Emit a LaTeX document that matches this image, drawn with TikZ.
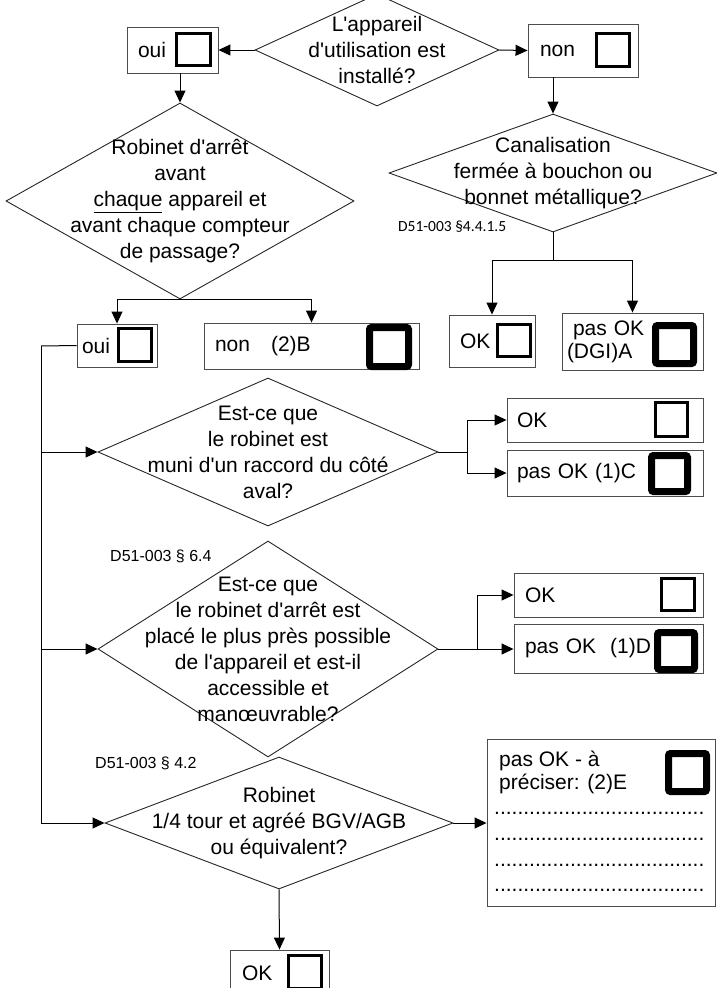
\documentclass[tikz,border=0pt]{standalone}
\usepackage{fontspec}
\setmainfont{Liberation Sans}[Ligatures=TeXOff]
\newfontfamily\calibri{Carlito}
\usetikzlibrary{shapes.geometric,arrows.meta}

\begin{document}
\begin{tikzpicture}[x=1pt,y=-1pt,>={Triangle[length=12pt,width=11pt]},
  txt/.style={font=\fontsize{21pt}{26pt}\selectfont},
  question/.style={diamond,draw=black!85,line width=0.9pt,inner sep=0pt},
  qlabel/.style={txt,align=center,inner sep=0pt},
  answer/.style={txt,draw=black!70,line width=0.9pt,inner xsep=10pt,inner ysep=0pt,align=left},
  tick/.style={draw,line width=3pt,inner sep=0pt,minimum width=33pt,minimum height=33pt},
  tickbold/.style={draw,line width=7pt,rounded corners=2pt,inner sep=0pt,minimum width=38pt,minimum height=38pt},
  ref/.style={font=\fontsize{16pt}{18pt}\selectfont,anchor=west,inner sep=0pt},
  conn/.style={line width=1pt}]
\useasboundingbox (0,0) rectangle (717,988);
\clip (0,0) rectangle (717,988);

\node[question,minimum width=244pt,minimum height=112pt,
  label={[qlabel]center:{L'appareil\\d'utilisation est\\installé?}}] (q1) at (377,50) {};
\node[answer,text width=69pt,inner xsep=11pt,minimum height=46pt] (oui1) at (172.5,50) {oui};
\node[tick,minimum width=34pt,minimum height=32pt] (chk1) at (193.5,49.5) {};
\node[answer,text width=86pt,inner xsep=12pt,minimum height=53pt] (non1) at (583,50.5) {non};
\node[tick] (chk2) at (613,50) {};

\node[question,minimum width=348pt,minimum height=196pt,
  label={[qlabel]center:{Robinet d'arrêt\\avant\\\underline{chaque} appareil et\\avant chaque compteur\\de passage?}}] (q2) at (180,201) {};
\node[question,minimum width=328pt,minimum height=118pt,
  label={[qlabel]center:{Canalisation\\fermée à bouchon ou\\bonnet métallique?}}] (q3) at (553,173) {};
\node[ref,font=\calibri\fontsize{15.5pt}{18pt}\selectfont] (ref1) at (398,227) {D51-003 §4.4.1.5};

\node[answer,text width=64pt,inner xsep=11pt,minimum height=52pt] (ok2) at (492,341) {OK};
\node[tick,minimum height=32pt] (chk3) at (514,340.5) {};
\node[answer,text width=131pt,inner xsep=5pt,minimum height=57pt,font=\fontsize{21pt}{23pt}\selectfont] (pasok2) at (632.5,341.5) {\hspace*{6pt}pas OK\\(DGI)A};
\node[tickbold] (chk4) at (674.5,344.5) {};

\node[answer,text width=70pt,inner xsep=5pt,minimum height=43pt] (oui2) at (117,345.5) {oui};
\node[tick] (chk5) at (135,345) {};
\node[answer,text width=193pt,inner xsep=11pt,minimum height=46pt] (non2) at (311.5,346) {non\quad(2)B};
\node[tickbold,minimum width=39pt,minimum height=39pt] (chk6) at (389,347) {};

\node[question,minimum width=340pt,minimum height=148pt,
  label={[qlabel]center:{Est-ce que\\le robinet est\\muni d'un raccord du côté\\aval?}}] (q4) at (268,452) {};
\node[answer,text width=176pt,minimum height=44pt] (ok4) at (605,420) {OK};
\node[tick,minimum width=32pt,minimum height=34pt] (chk7) at (671.5,419.5) {};
\node[answer,text width=176pt,minimum height=46pt] (pasok4) at (605,473) {pas OK (1)C};
\node[tickbold,minimum width=36pt,minimum height=36pt] (chk8) at (669.5,473.5) {};

\node[ref] (ref2) at (110,556) {D51-003 § 6.4};
\node[question,minimum width=340pt,minimum height=216pt,
  label={[qlabel]center:{Est-ce que\\le robinet d'arrêt est\\placé le plus près possible\\de l'appareil et est-il\\accessible et\\manœuvrable?}}] (q5) at (268,649) {};
\node[answer,text width=167pt,inner xsep=11pt,minimum height=44pt] (ok5) at (608.5,595) {OK};
\node[tick,minimum height=32pt] (chk9) at (678,594.5) {};
\node[answer,text width=167pt,inner xsep=11pt,minimum height=49pt] (pasok5) at (608.5,648.5) {pas OK\ \ (1)D};
\node[tickbold,minimum width=37pt,minimum height=37pt] (chk10) at (676,651) {};

\node[ref] (ref3) at (95,763) {D51-003 § 4.2};
\node[question,minimum width=348pt,minimum height=132pt,
  label={[qlabel]center:{Robinet\\1/4 tour et agréé BGV/AGB\\ou équivalent?}}] (q6) at (279,823) {};
\node[draw=black!70,line width=0.9pt,minimum width=228pt,minimum height=167pt] (boxE) at (601,822.5) {};
\node[txt,font=\fontsize{21pt}{23pt}\selectfont,align=left,anchor=west,inner sep=0pt] (etxt) at (499,772) {pas OK - à\\préciser: (2)E};
\node[tickbold] (chk11) at (687.5,772.5) {};
\foreach \y [count=\i] in {813,839,865,890}
  \node[txt,anchor=west,inner sep=0pt] (dots\i) at (494,\y) {....................................};

\node[answer,text width=75pt,inner xsep=12pt,minimum height=46pt] (ok6) at (279.5,973) {OK};
\node[tick] (chk12) at (305,972) {};

\draw[conn,->] (q1.west) -- (oui1.east);
\draw[conn,->] (q1.east) -- (non1.west);
\draw[conn,->] (q2.north |- oui1.south) -- (q2.north);
\draw[conn,->] (q3.north |- non1.south) -- (q3.north);
\draw[conn,->] (q2.south) -| (oui2);
\draw[conn,->] (q2.south) -| (non2);
\draw[conn,->] (q3.south) -- ++(0,28) -| (ok2);
\draw[conn,->] (q3.south) -- ++(0,28) -| (pasok2);

\coordinate (tr) at (41,346);
\draw[conn] (oui2.west) -- (tr);
\draw[conn,->] (tr) |- (q6.west);
\draw[conn,->] (tr |- q4.west) -- (q4.west);
\draw[conn,->] (tr |- q5.west) -- (q5.west);

\draw[conn,->] (q4.east) -- ++(29,0) |- (ok4.west);
\draw[conn,->] (q4.east) -- ++(29,0) |- (pasok4.west);
\draw[conn,->] (q5.east) -- ++(39,0) |- (ok5.west);
\draw[conn,->] (q5.east) -- (q5.east -| pasok5.west);
\draw[conn,->] (q6.east) -- (q6.east -| boxE.west);
\draw[conn,->] (q6.south) -- (ok6.north);
\end{tikzpicture}
\end{document}
